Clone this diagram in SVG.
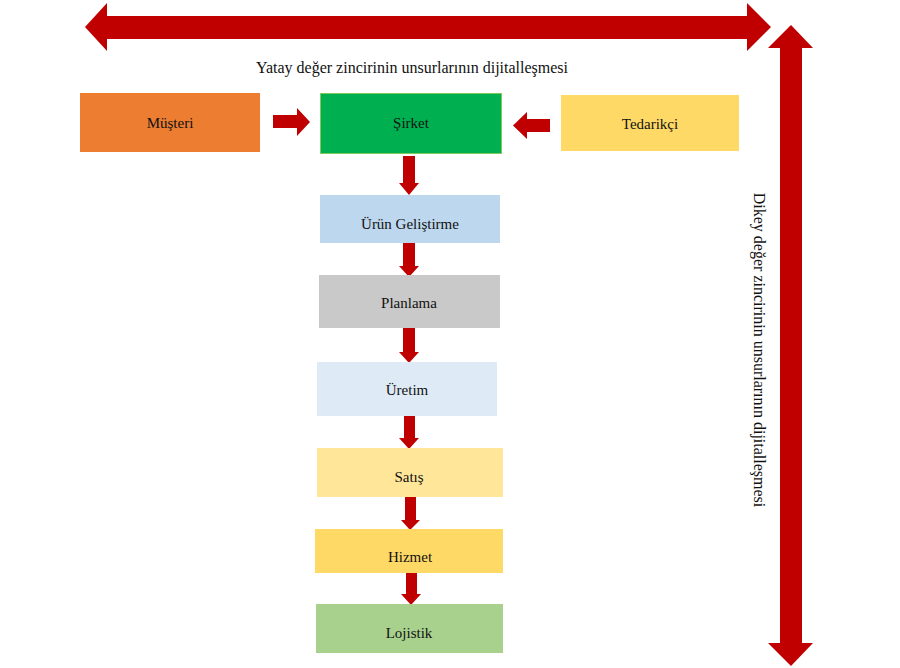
<svg xmlns="http://www.w3.org/2000/svg" width="900" height="668" viewBox="0 0 900 668">
<style>
.lbl{font-family:"Liberation Serif","Times New Roman",serif;font-size:15px;fill:#111;text-anchor:middle}
.ax{font-family:"Liberation Serif","Times New Roman",serif;font-size:16px;fill:#111;text-anchor:middle}
.arr{fill:#C00000}
</style>
<rect width="900" height="668" fill="#ffffff"/>
<g id="axes">
<polygon class="arr" points="85,27 107,3 107,16 747,16 747,3 771,27 747,51 747,39 107,39 107,51"/>
<polygon class="arr" points="791,25 813,48 802,48 802,643 813,643 791,666 768,643 780,643 780,48 768,48"/>
<text class="ax" x="412" y="73">Yatay değer zincirinin unsurlarının dijitalleşmesi</text>
<text class="ax" transform="translate(760,350) rotate(90)" dy="0.35em">Dikey değer zincirinin unsurlarının dijitalleşmesi</text>
</g>
<g id="connectors">
<polygon class="arr" points="273,115 297,115 297,108 310,122 297,136 297,128 273,128"/>
<polygon class="arr" points="550,119 527,119 527,112 513,125.5 527,139 527,132 550,132"/>
<polygon class="arr" points="403,156 415,156 415,183 419,183 409,195 399,183 403,183"/>
<polygon class="arr" points="403,243 415,243 415,266 419,266 409,277 399,266 403,266"/>
<polygon class="arr" points="403,328 415,328 415,352 419,352 409,363 399,352 403,352"/>
<polygon class="arr" points="404,413 415,413 415,438 419,438 409,449 399,438 404,438"/>
<polygon class="arr" points="405,497 416,497 416,520 420,520 410,530 401,520 405,520"/>
<polygon class="arr" points="406,570 417,570 417,594 421,594 411,605 401,594 406,594"/>
</g>
<g id="musteri"><rect x="80" y="93" width="180" height="59" fill="#ED7D31"/><text class="lbl" x="170" y="128">Müşteri</text></g>
<g id="sirket"><rect x="320.5" y="93.5" width="181" height="60" fill="#00B050" stroke="#7DCB5A" stroke-width="1"/><text class="lbl" x="411" y="128">Şirket</text></g>
<g id="tedarikci"><rect x="561" y="95" width="178" height="56" fill="#FFD966"/><text class="lbl" x="650" y="129">Tedarikçi</text></g>
<g id="urun"><rect x="320" y="195" width="180" height="48" fill="#BDD7EE"/><text class="lbl" x="410" y="229">Ürün Geliştirme</text></g>
<g id="planlama"><rect x="319" y="275" width="181" height="53" fill="#C9C9C9"/><text class="lbl" x="409" y="308">Planlama</text></g>
<g id="uretim"><rect x="317" y="362" width="180" height="54" fill="#DEEBF7"/><text class="lbl" x="407" y="395">Üretim</text></g>
<g id="satis"><rect x="317" y="448" width="186" height="49" fill="#FFE699"/><text class="lbl" x="409" y="482">Satış</text></g>
<g id="hizmet"><rect x="315" y="529" width="188" height="44" fill="#FFD966"/><text class="lbl" x="410" y="562">Hizmet</text></g>
<g id="lojistik"><rect x="316" y="604" width="187" height="49" fill="#A9D18E"/><text class="lbl" x="409" y="638">Lojistik</text></g>
</svg>
